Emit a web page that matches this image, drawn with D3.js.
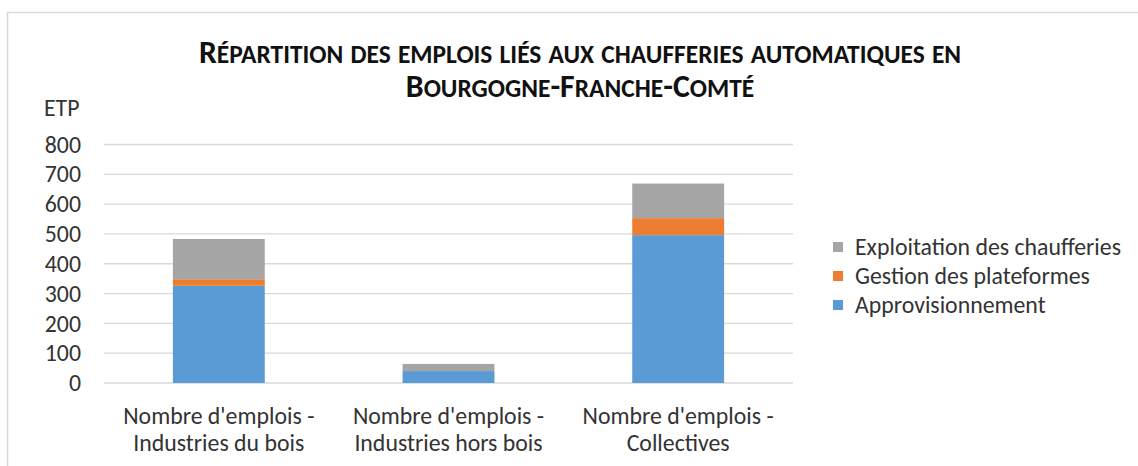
<!DOCTYPE html>
<html>
<head>
<meta charset="utf-8">
<script src="https://cdn.jsdelivr.net/npm/d3@7"></script>
<style>
  body { margin: 0; background: #fff; }
  text { font-family: Calibri, Carlito, "Open Sans", sans-serif; }
</style>
</head>
<body>
<svg id="chart" width="1138" height="466"></svg>
<script>
// categories (two-line labels)
var categories = ["Industries du bois", "Industries hors bois", "Collectives"];
var catLine1 = ["Nombre d'emplois -", "Nombre d'emplois -", "Nombre d'emplois -"];
var catLine2 = ["Industries du bois", "Industries hors bois", "Collectives"];

// series values, bottom to top
var approvisionnement = [326, 40, 496];
var gestion = [22, 0, 57];
var exploitation = [135, 24, 116];

var seriesNames = ["Approvisionnement", "Gestion des plateformes", "Exploitation des chaufferies"];
var seriesColors = ["#5b9bd5", "#ed7d31", "#a5a5a5"];

var yTicks = [0, 100, 200, 300, 400, 500, 600, 700, 800];
var titleLines = ["Répartition des emplois liés aux chaufferies automatiques en", "Bourgogne-Franche-Comté"];
var yUnit = "ETP";

var svg = d3.select("#chart");
var textColor = "#333";
var fontSize = 23.8;

// outer frame (cropped on the right and bottom)
svg.append("rect")
    .attr("x", 7.5).attr("y", 12.5)
    .attr("width", 1200).attr("height", 500)
    .attr("fill", "none")
    .attr("stroke", "#d9d9d9")
    .attr("stroke-width", 1.5);

var margin = {top: 144.5, left: 104, right: 793, bottom: 383};

var x = d3.scaleBand()
    .domain(categories)
    .range([margin.left, margin.right])
    .paddingInner(0.6)
    .paddingOuter(0.3);

var y = d3.scaleLinear()
    .domain([0, 800])
    .range([margin.bottom, margin.top]);

// gridlines
svg.append("g")
    .selectAll("line")
    .data(yTicks)
    .join("line")
    .attr("x1", margin.left).attr("x2", margin.right)
    .attr("y1", function(d) { return y(d); })
    .attr("y2", function(d) { return y(d); })
    .attr("stroke", "#d9d9d9")
    .attr("stroke-width", 1.3);

// y axis labels
var yAxis = svg.append("g")
    .attr("transform", "translate(" + margin.left + ",0)")
    .call(d3.axisLeft(y).tickValues(yTicks).tickSize(0).tickPadding(23));
yAxis.select(".domain").remove();
yAxis.selectAll("text")
    .attr("font-size", fontSize)
    .attr("fill", textColor)
    .style("font-family", "Calibri, Carlito, 'Open Sans', sans-serif");

svg.append("text")
    .attr("x", 44).attr("y", 116)
    .attr("font-size", fontSize)
    .attr("fill", textColor)
    .text(yUnit);

// stacked bars
var rows = categories.map(function(c, i) {
    return {cat: c, approvisionnement: approvisionnement[i], gestion: gestion[i], exploitation: exploitation[i]};
});
var stack = d3.stack().keys(["approvisionnement", "gestion", "exploitation"]);
var stacked = stack(rows);

svg.append("g")
    .selectAll("g")
    .data(stacked)
    .join("g")
    .attr("fill", function(d, i) { return seriesColors[i]; })
    .selectAll("rect")
    .data(function(d) { return d; })
    .join("rect")
    .attr("x", function(d) { return x(d.data.cat); })
    .attr("width", x.bandwidth())
    .attr("y", function(d) { return y(d[1]); })
    .attr("height", function(d) { return y(d[0]) - y(d[1]); });

// x labels
var xl = svg.append("g")
    .selectAll("text")
    .data(categories)
    .join("text")
    .attr("text-anchor", "middle")
    .attr("font-size", fontSize)
    .attr("fill", textColor);
xl.append("tspan")
    .attr("x", function(d) { return x(d) + x.bandwidth() / 2; })
    .attr("y", 424)
    .text(function(d, i) { return catLine1[i]; });
xl.append("tspan")
    .attr("x", function(d) { return x(d) + x.bandwidth() / 2; })
    .attr("y", 451)
    .text(function(d, i) { return catLine2[i]; });

// legend (top entry is the top of the stack)
var legendOrder = [2, 1, 0];
var leg = svg.append("g")
    .selectAll("g")
    .data(legendOrder)
    .join("g")
    .attr("transform", function(d, i) { return "translate(833," + (247 + i * 29) + ")"; });
leg.append("rect")
    .attr("x", 0).attr("y", -5)
    .attr("width", 10).attr("height", 10)
    .attr("fill", function(d) { return seriesColors[d]; });
leg.append("text")
    .attr("x", 22).attr("y", 0)
    .attr("dy", "0.35em")
    .attr("font-size", fontSize)
    .attr("fill", textColor)
    .text(function(d) { return seriesNames[d]; });

// title in small caps: capitals full size, lower case letters set smaller
var title = svg.append("g");
var titleY = [63, 97];
var titleSize = 31.8;
titleLines.forEach(function(line, li) {
    var t = title.append("text")
        .attr("x", 580).attr("y", titleY[li])
        .attr("text-anchor", "middle")
        .attr("font-weight", "bold")
        .attr("fill", "#111");
    var chunks = [];
    line.split("").forEach(function(ch) {
        var big = ch !== ch.toLowerCase() || !/[a-zà-ÿ]/.test(ch);
        if (chunks.length && chunks[chunks.length - 1].big === big) {
            chunks[chunks.length - 1].s += ch;
        } else {
            chunks.push({big: big, s: ch});
        }
    });
    chunks.forEach(function(c) {
        t.append("tspan")
            .attr("font-size", c.big ? titleSize : titleSize * 0.8)
            .text(c.big ? c.s : c.s.toUpperCase());
    });
});
</script>
</body>
</html>
